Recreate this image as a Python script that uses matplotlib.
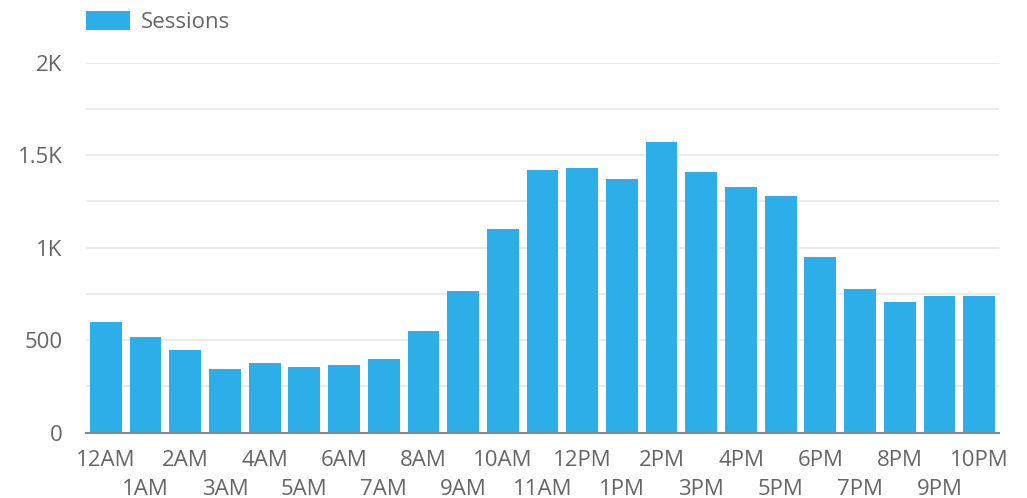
import matplotlib.pyplot as plt
from matplotlib.ticker import MultipleLocator, FuncFormatter
from matplotlib.patches import Patch

# Hourly sessions
hours = ['12AM', '1AM', '2AM', '3AM', '4AM', '5AM', '6AM', '7AM', '8AM', '9AM',
         '10AM', '11AM', '12PM', '1PM', '2PM', '3PM', '4PM', '5PM', '6PM', '7PM',
         '8PM', '9PM', '10PM']
sessions = [597, 516, 449, 346, 378, 357, 366, 397, 548, 768,
            1099, 1420, 1429, 1371, 1571, 1411, 1330, 1279, 948, 775,
            708, 739, 739]

bar_color = '#2eaee8'
text_color = '#666666'
fsize = 16

plt.rcParams['font.family'] = ['Open Sans', 'DejaVu Sans']

fig = plt.figure(figsize=(10.27, 4.98), dpi=100)
ax = fig.add_axes([86 / 1027, 1 - 432.7 / 498, 913 / 1027, 370 / 498])

x = list(range(len(hours)))
ax.bar(x, sessions, width=0.8, color=bar_color, zorder=3)

ax.set_xlim(-0.5, len(hours) - 0.5)
ax.set_ylim(0, 2000)

# y axis: labels every 500, gridlines every 250
ax.yaxis.set_major_locator(MultipleLocator(500))
ax.yaxis.set_minor_locator(MultipleLocator(250))
ax.yaxis.set_major_formatter(FuncFormatter(
    lambda v, p: '0' if v == 0 else (f'{v / 1000:g}K' if v >= 1000 else f'{int(v)}')))
ax.grid(axis='y', which='both', color='#e8e8e8', linewidth=1.2, zorder=0)

# staggered x labels: even hours on the first row, odd hours on the second
ax.set_xticks(x[0::2])
ax.set_xticklabels(hours[0::2])
ax.set_xticks(x[1::2], minor=True)
ax.set_xticklabels(hours[1::2], minor=True)

ax.tick_params(axis='x', which='major', length=0, pad=12.5, labelsize=fsize, colors=text_color)
ax.tick_params(axis='x', which='minor', length=0, pad=33, labelsize=fsize, colors=text_color)
ax.tick_params(axis='y', which='both', length=0, pad=17, labelsize=fsize, colors=text_color)

for side in ['top', 'right', 'left']:
    ax.spines[side].set_visible(False)
ax.spines['bottom'].set_color('#888888')
ax.spines['bottom'].set_linewidth(1.5)
ax.spines['bottom'].set_zorder(4)

# legend on top-left
handle = Patch(facecolor=bar_color, edgecolor='none', label='Sessions')
leg = ax.legend(handles=[handle], loc='lower left', bbox_to_anchor=(0, 1.08),
                frameon=False, borderpad=0, borderaxespad=0, handlelength=2.0,
                handleheight=1.0, handletextpad=0.45, fontsize=fsize)
for t in leg.get_texts():
    t.set_color(text_color)

fig.savefig('out.png', dpi=100)
